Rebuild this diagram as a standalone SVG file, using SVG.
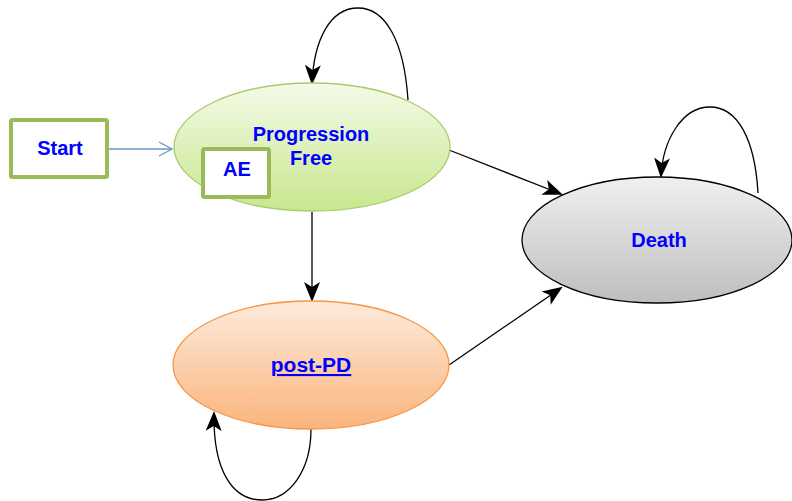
<svg xmlns="http://www.w3.org/2000/svg" width="792" height="501" viewBox="0 0 792 501">
<style>
.t{font-family:"Liberation Sans",Arial,sans-serif;font-weight:bold;fill:#0000FF;font-size:20px;text-anchor:middle}
.c{fill:none;stroke:#000;stroke-width:1.3}
.box{fill:#fff;stroke:#9BBB59;stroke-width:4}
</style>
<defs>
<linearGradient id="gPF" x1="0" y1="0" x2="0" y2="1"><stop offset="0" stop-color="#F4FAE8"/><stop offset="1" stop-color="#C8E78E"/></linearGradient>
<linearGradient id="gPD" x1="0" y1="0" x2="0" y2="1"><stop offset="0" stop-color="#FDEBDD"/><stop offset="1" stop-color="#FAB47C"/></linearGradient>
<linearGradient id="gD" x1="0" y1="0" x2="0" y2="1"><stop offset="0" stop-color="#F0F0F0"/><stop offset="1" stop-color="#BEBEBE"/></linearGradient>
<marker id="ah" viewBox="0 0 20 20" refX="18" refY="10" markerWidth="20" markerHeight="20" markerUnits="userSpaceOnUse" orient="auto">
<path d="M0,2 L20,10 L0,18 L5,10 Z" fill="#000"/>
</marker>
<marker id="oa" viewBox="0 0 16 16" refX="15" refY="8" markerWidth="16" markerHeight="16" markerUnits="userSpaceOnUse" orient="auto">
<path d="M2,1 L15,8 L2,15" fill="none" stroke="#6A95C8" stroke-width="1.3"/>
</marker>
</defs>
<g id="connectors">
<path class="c" d="M408,100 C404,40 385,8 358,8 C330,8 314,40 312,83" marker-end="url(#ah)"/>
<path class="c" d="M758,193 C755,140 738,107 710,107 C682,107 663,140 661,176" marker-end="url(#ah)"/>
<path class="c" d="M311,429 C311,470 290,500 262,500 C232,500 213,470 214,413" marker-end="url(#ah)"/>
<path class="c" d="M449,150 L561,194" marker-end="url(#ah)"/>
<path class="c" d="M449,365 L561,288" marker-end="url(#ah)"/>
<path class="c" d="M312,212 L312,300" marker-end="url(#ah)"/>
<path d="M108,149 L172,149" fill="none" stroke="#6A95C8" stroke-width="1.3" marker-end="url(#oa)"/>
</g>
<g id="start">
<rect class="box" x="11" y="120" width="96" height="57" rx="1.5"/>
<text class="t" x="60" y="155">Start</text>
</g>
<g id="progression-free">
<ellipse cx="312" cy="147" rx="138" ry="64" fill="url(#gPF)" stroke="#A8CC6C" stroke-width="1.3"/>
<text class="t" x="311" y="141">Progression</text>
<text class="t" x="311" y="165">Free</text>
</g>
<g id="ae">
<rect class="box" x="203" y="149" width="66" height="48" rx="1.5"/>
<text class="t" x="237" y="176">AE</text>
</g>
<g id="post-pd">
<ellipse cx="311" cy="365" rx="138" ry="64" fill="url(#gPD)" stroke="#F79646" stroke-width="1.3"/>
<text class="t" x="311" y="372" style="text-decoration:underline;font-size:21px">post-PD</text>
</g>
<g id="death">
<ellipse cx="657" cy="240" rx="135" ry="63" fill="url(#gD)" stroke="#000" stroke-width="1.3"/>
<text class="t" x="659" y="247">Death</text>
</g>
</svg>
